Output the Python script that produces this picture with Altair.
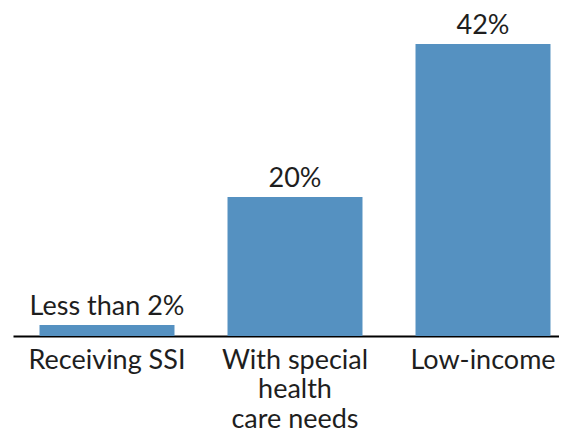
import altair as alt
import pandas as pd

categories = ["Receiving SSI", "With special|health|care needs", "Low-income"]
values = [1.6, 20, 42]
labels = ["Less than 2%", "20%", "42%"]

df = pd.DataFrame({"cat": categories, "val": values, "lab": labels})

FONT = "Lato"
WEIGHT = 400
SIZE = 27
x = alt.X("cat:N", sort=categories, title=None,
          scale=alt.Scale(paddingInner=0.282, paddingOuter=0.141, range=[0, 564]),
          axis=alt.Axis(labelExpr="split(datum.label, '|')", labelAngle=0,
                        labelFont=FONT, labelFontSize=SIZE, labelFontWeight=WEIGHT,
                        labelColor="#1e1e1e", labelLineHeight=29.5,
                        labelPadding=11, ticks=False, domainColor="#000000",
                        domainWidth=2, grid=False, labelBaseline="top"))
y = alt.Y("val:Q", title=None, scale=alt.Scale(domain=[0, 42], nice=False),
          axis=None)

bars = alt.Chart(df).mark_bar(color="#5591c1").encode(x=x, y=y)
text = alt.Chart(df).mark_text(font=FONT, fontSize=SIZE, fontWeight=WEIGHT,
                               color="#1e1e1e", baseline="alphabetic",
                               dy=-10).encode(x=x, y=y, text="lab:N")

chart = (bars + text).properties(
    width=546, height=292,
    autosize=alt.AutoSizeParams(type="none"),
    padding={"left": 5, "top": 36, "right": 0, "bottom": 92},
).configure_view(stroke=None)

chart.save("out.html", embed_options={"renderer": "svg", "actions": False})
